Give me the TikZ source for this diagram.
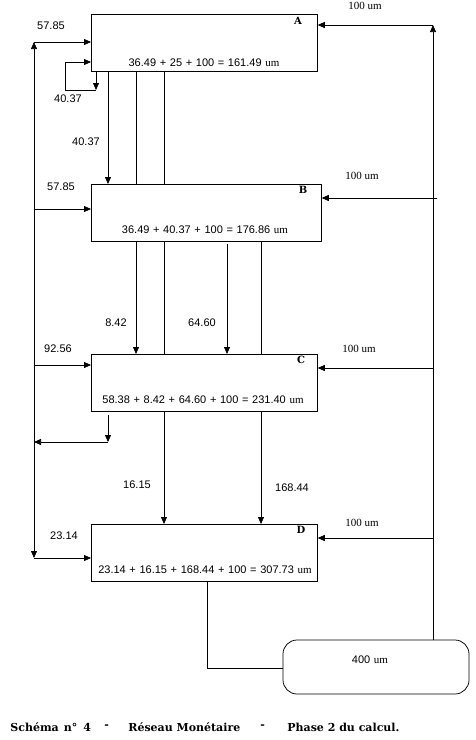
\documentclass[tikz,border=0pt]{standalone}
\usepackage{fontspec}
\setmainfont{Liberation Serif}
\setsansfont{Liberation Sans}[WordSpace=1.2]
\newfontfamily\capfont{DejaVu Serif}
\usetikzlibrary{arrows.meta}
\begin{document}
\begin{tikzpicture}[x=1pt,y=-1pt,line width=0.75pt,
  blk/.style={draw,rectangle,minimum height=57pt,anchor=north west,inner sep=0pt},
  num/.style={font=\sffamily\fontsize{11}{13}\selectfont,inner sep=0pt},
  unit/.style={font=\rmfamily\fontsize{11}{13}\selectfont,inner sep=0pt},
  tag/.style={font=\capfont\bfseries\fontsize{10}{11}\selectfont,inner sep=0pt},
  captxt/.style={font=\capfont\bfseries\fontsize{11}{13}\selectfont,inner sep=0pt,anchor=west},
  arr/.style={-{Triangle[length=7pt,width=6pt]}}]
\useasboundingbox (0,0) rectangle (475,740);
% boxes
\node[blk,minimum width=226pt] (A) at (91,14) {};
\node[blk,minimum width=230pt] (B) at (91,184) {};
\node[blk,minimum width=226pt] (C) at (91,354) {};
\node[blk,minimum width=226pt] (D) at (91,524) {};
\node[draw,rounded corners=14pt,minimum width=186pt,minimum height=54pt,inner sep=0pt] (R) at (376,667) {};
% box texts
\node[tag] (lA) at (298,21) {A};
\node[tag] (lB) at (303,190) {B};
\node[tag] (lC) at (301,360) {C};
\node[tag] (lD) at (301,530) {D};
\node[num] (tA) at (204,63) {36.49 + 25 + 100 = 161.49 \textrm{um}};
\node[num] (tB) at (205,230) {36.49 + 40.37 + 100 = 176.86 \textrm{um}};
\node[num] (tC) at (203,400) {58.38 + 8.42 + 64.60 + 100 = 231.40 \textrm{um}};
\node[num] (tD) at (205,570) {23.14 + 16.15 + 168.44 + 100 = 307.73 \textrm{um}};
\node[num] (tR) at (370,660) {400 \textrm{um}};
% flow labels
\node[num] (n1) at (51,26) {57.85};
\node[num] (n2) at (68,99) {40.37};
\node[num] (n3) at (86,142) {40.37};
\node[num] (n4) at (61,187) {57.85};
\node[num] (n5) at (116,323) {8.42};
\node[num] (n6) at (202,323) {64.60};
\node[num] (n7) at (58,349) {92.56};
\node[num] (n8) at (137,485) {16.15};
\node[num] (n9) at (292,488) {168.44};
\node[num] (n10) at (64,536) {23.14};
\node[unit] (u1) at (365,6) {100 um};
\node[unit] (u2) at (362,176) {100 um};
\node[unit] (u3) at (359,349) {100 um};
\node[unit] (u4) at (362,523) {100 um};
% coordinates
\coordinate (x108) at (108,0);
\coordinate (x136) at (136,0);
\coordinate (x164) at (164,0);
\coordinate (x227) at (227,0);
\coordinate (x261) at (261,0);
\coordinate (L1) at (34,42);
\coordinate (L2) at (34,209);
\coordinate (L3) at (34,365);
\coordinate (L4) at (34,442);
\coordinate (L5) at (34,558);
\coordinate (a1) at (96,90);
\coordinate (a2) at (65,90);
\coordinate (a3) at (65,62);
\coordinate (c1) at (108,442);
\coordinate (R1) at (433,25);
\coordinate (R2) at (437,198);
\coordinate (R3) at (433,368);
\coordinate (R4) at (433,538);
\coordinate (d1) at (207,668);
% left network
\draw[arr] (L4) -- (L1);
\draw[arr] (L1) -- (L1 -| A.west);
\draw[arr] (L2) -- (L2 -| B.west);
\draw[arr] (L3) -- (L3 -| C.west);
\draw[arr] (L4) -- (L5);
\draw[arr] (L5) -- (L5 -| D.west);
% A loop
\draw[arr] (A.south -| a1) -- (a1);
\draw[arr] (a1) -- (a2) -- (a3) -- (a3 -| A.west);
% A to B
\draw[arr] (A.south -| x108) -- (B.north -| x108);
\draw (A.south -| x136) -- (B.north -| x136);
\draw (A.south -| x164) -- (B.north -| x164);
% B to C
\draw[arr] (B.south -| x136) -- (C.north -| x136);
\draw (B.south -| x164) -- (C.north -| x164);
\draw[arr] ([yshift=-2pt]B.south -| x227) -- (C.north -| x227);
\draw (B.south -| x261) -- (C.north -| x261);
% C loop
\draw[arr] ([yshift=-3pt]C.south -| c1) -- (c1);
\draw[arr] (c1) -- (L4);
% C to D
\draw[arr] (C.south -| x164) -- (D.north -| x164);
\draw[arr] (C.south -| x261) -- (D.north -| x261);
% right network
\draw[arr] (R.north -| R1) -- (R1);
\draw[arr] (R1) -- (R1 -| A.east);
\draw[arr] (R2) -- (R2 -| B.east);
\draw[arr] (R3) -- (R3 -| C.east);
\draw[arr] (R4) -- (R4 -| D.east);
% D to reserve
\draw (D.south -| d1) -- (d1) -- (d1 -| R.west);
% caption
\node[captxt] (k1) at (10,727) {Schéma\hspace{5pt}n°\hspace{6pt}4};
\node[captxt] (k2) at (104,727) {-};
\node[captxt] (k3) at (128,727) {Réseau Monétaire};
\node[captxt] (k4) at (260,727) {-};
\node[captxt] (k5) at (287,727) {Phase 2 du calcul.};
\end{tikzpicture}
\end{document}
